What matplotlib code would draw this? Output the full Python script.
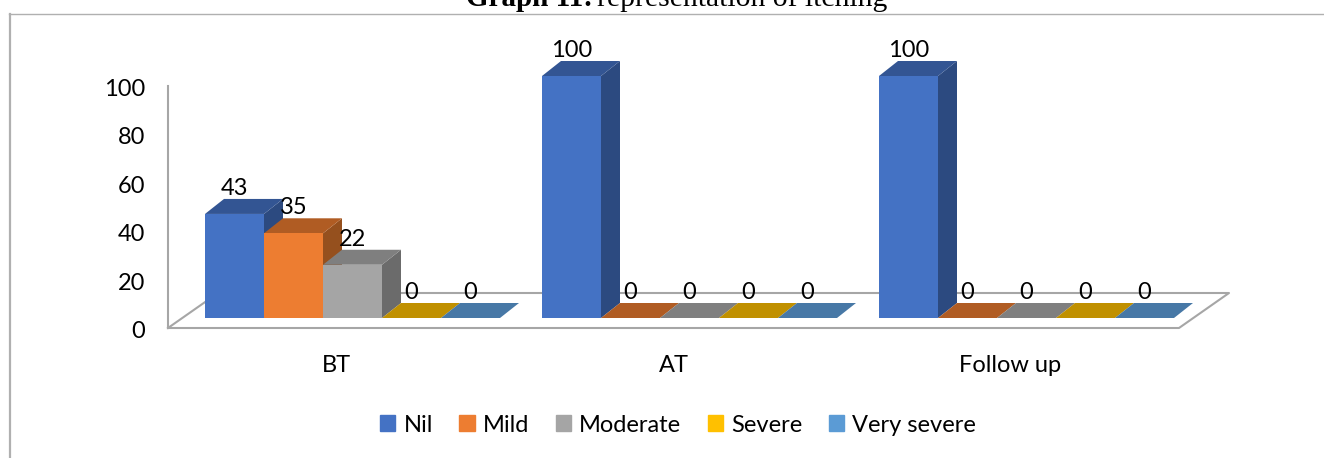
import matplotlib
matplotlib.use('Agg')
import matplotlib.pyplot as plt
from matplotlib.patches import Rectangle

categories = ['BT', 'AT', 'Follow up']
series = ['Nil', 'Mild', 'Moderate', 'Severe', 'Very severe']
nil = [43, 100, 100]
mild = [35, 0, 0]
moderate = [22, 0, 0]
severe = [0, 0, 0]
very_severe = [0, 0, 0]
values = [nil, mild, moderate, severe, very_severe]
y_ticks = [0, 20, 40, 60, 80, 100]

front_col = ['#4472C4', '#ED7D31', '#A5A5A5', '#FFC000', '#5B9BD5']
top_col = ['#335593', '#B05C23', '#7F7F7F', '#C09000', '#4778A6']
side_col = ['#2C4A80', '#95501E', '#6B6B6B', '#A67C00', '#3E6890']
line_col = '#A6A6A6'

W, H = 1324, 458
fig = plt.figure(figsize=(W / 100, H / 100), dpi=100)
plt.rcParams['font.family'] = ['Lato', 'DejaVu Sans']

# axes box = front plane of the fake 3d chart, in pixels
left, right, bottom, top = 168, 1179, 328, 86
ax = fig.add_axes([left / W, 1 - bottom / H, (right - left) / W, (bottom - top) / H])
ax.set_xlim(-0.5, 2.5)
ax.set_ylim(0, 100)
ax.axis('off')

px_x = 3 / (right - left)
px_y = 100 / (bottom - top)

# depth of floor and of one bar
floor_dx, floor_dy = 50 * px_x, 35 * px_y
bar_dx, bar_dy = 19 * px_x, 15 * px_y
base = 10 * px_y
bar_w = 59 * px_x
shift = -131.5 * px_x  # first bar relative to category centre

# walls and floor
x0, x1 = -0.5, 2.5
ax.plot([x0, x0], [0, 100], color=line_col, lw=1.5, clip_on=False, zorder=1)
ax.plot([x0, x1, x1 + floor_dx, x0 + floor_dx, x0],
        [0, 0, floor_dy, floor_dy, 0], color=line_col, lw=1.5, clip_on=False, zorder=1)

z = 2
for c in range(len(categories)):
    for s in range(len(series)):
        v = values[s][c]
        xl = c + shift + s * bar_w
        xr = xl + bar_w
        yt = base + v
        if v > 0:
            ax.fill([xr, xr + bar_dx, xr + bar_dx, xr],
                    [base, base + bar_dy, yt + bar_dy, yt],
                    color=side_col[s], lw=0, clip_on=False, zorder=z)
        ax.fill([xl, xr, xr + bar_dx, xl + bar_dx],
                [yt, yt, yt + bar_dy, yt + bar_dy],
                color=top_col[s], lw=0, clip_on=False, zorder=z)
        if v > 0:
            ax.bar(xl, v, bar_w, bottom=base, align='edge', color=front_col[s],
                   lw=0, clip_on=False, zorder=z)
        z += 1

# value labels go on top of everything
for c in range(len(categories)):
    for s in range(len(series)):
        v = values[s][c]
        xm = c + shift + (s + 0.5) * bar_w
        ax.text(xm, base + v + bar_dy + 10.5 * px_y, str(v), ha='center', va='center',
                fontsize=17, color='black', zorder=50, clip_on=False)

for t in y_ticks:
    ax.text(x0 - 23 * px_x, t - 3.5 * px_y, str(t), ha='right', va='center', fontsize=17,
            color='black')

for c, name in enumerate(categories):
    ax.text(c, -37 * px_y, name, ha='center', va='center', fontsize=17, color='black')

# legend
handles = [Rectangle((0, 0), 1, 1, color=col) for col in front_col]
fig.legend(handles, series, loc='center', bbox_to_anchor=(678 / W, 1 - 425 / H), ncol=5,
           frameon=False, fontsize=17, handlelength=0.64, handleheight=0.64,
           handletextpad=0.34, columnspacing=1.13)

# outer border and cut-off caption
fig.add_artist(plt.Line2D([10 / W, 10 / W], [0, 1 - 13.5 / H], color='#B0B0B0', lw=1.6))
fig.add_artist(plt.Line2D([9 / W, 1], [1 - 13.5 / H, 1 - 13.5 / H], color='#B0B0B0', lw=1.0))
fig.text(466 / W, 1 - 5.5 / H, 'Graph 11:', family='Liberation Serif', weight='bold',
         fontsize=21, va='baseline', ha='left')
fig.text(597 / W, 1 - 5.5 / H, 'representation of itching', family='Liberation Serif',
         fontsize=21.3, va='baseline', ha='left')

fig.savefig('out.png', dpi=100)
